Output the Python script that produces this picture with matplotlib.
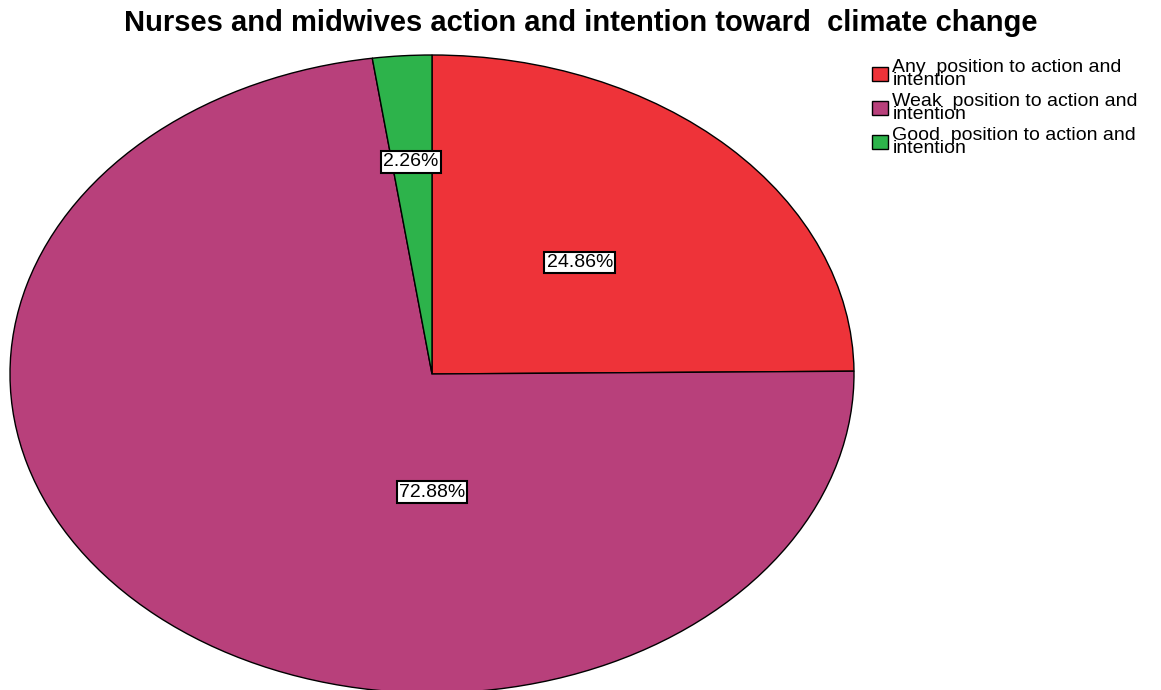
import matplotlib.pyplot as plt
from matplotlib.patches import Patch

plt.rcParams['font.family'] = ['Liberation Sans', 'DejaVu Sans']

# Data
labels = ["Any  position to action and\nintention",
          "Weak  position to action and\nintention",
          "Good  position to action and\nintention"]
values = [24.86, 72.88, 2.26]
colors = ["#ee3339", "#b8407b", "#2db34b"]
# where each percentage box sits inside the pie (data units, radius = 1)
label_pos = [(0.35, 0.35), (0.0, -0.37), (-0.05, 0.665)]

fig = plt.figure(figsize=(11.61, 6.9), dpi=100)
ax = fig.add_axes([10 / 1161, -3 / 690, 844 / 1161, 638 / 690])

wedges, _ = ax.pie(values, colors=colors, startangle=90, counterclock=False,
                   wedgeprops=dict(edgecolor="black", linewidth=1.0))
ax.set_aspect("auto")
ax.set_xlim(-1, 1)
ax.set_ylim(-1, 1)
ax.axis("off")

for v, (x, y) in zip(values, label_pos):
    ax.text(x, y, f"{v:.2f}%", ha="center", va="center", fontsize=14,
            bbox=dict(boxstyle="square,pad=0.12", facecolor="white",
                      edgecolor="black", linewidth=1.5))

fig.text(0.5, 0.966, "Nurses and midwives action and intention toward  climate change",
         ha="center", va="center", fontsize=21, fontweight="bold")

handles = [Patch(facecolor=c, edgecolor="black", linewidth=1.0) for c in colors]
fig.legend(handles, labels, loc="upper left", bbox_to_anchor=(872 / 1161, 1 - 59 / 690),
           frameon=False, fontsize=14, handlelength=0.8, handleheight=0.72,
           handletextpad=0.25, labelspacing=0.2, borderpad=0, borderaxespad=0)
for t in fig.legends[0].get_texts():
    t.set_linespacing(0.7)

fig.savefig("out.png", dpi=100)
